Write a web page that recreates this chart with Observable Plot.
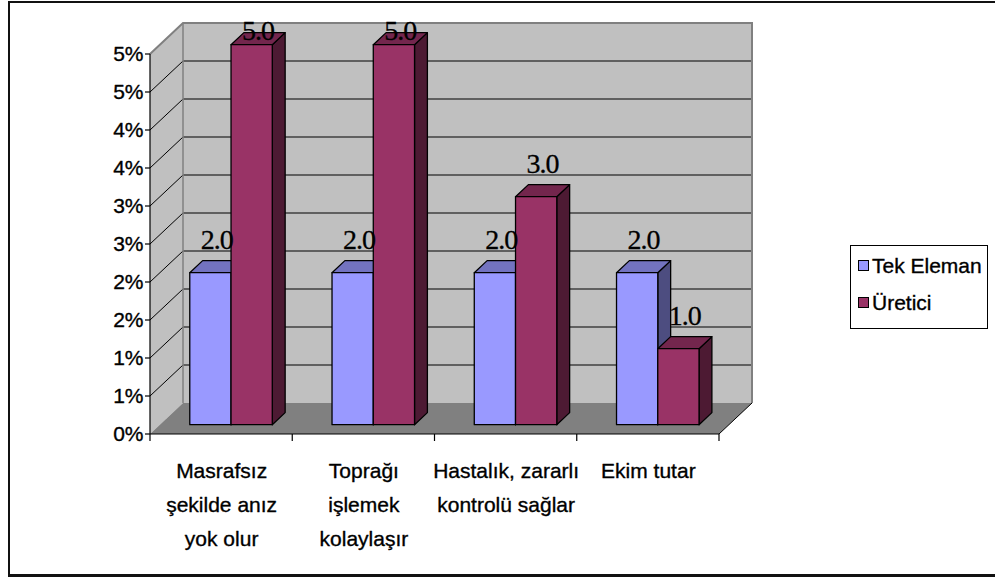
<!DOCTYPE html>
<html>
<head>
<meta charset="utf-8">
<script src="https://cdn.jsdelivr.net/npm/d3@7"></script>
<script src="https://cdn.jsdelivr.net/npm/@observablehq/plot@0.6"></script>
<style>
  html, body { margin: 0; padding: 0; background: #fff; }
  #wrap { position: relative; width: 995px; height: 578px; overflow: hidden; font-family: "Liberation Sans", Arial, sans-serif; }
  #border { position: absolute; left: 8px; top: 1px; width: 1200px; height: 576px; box-sizing: border-box; border: 2px solid #111; border-bottom-width: 3px; }
  #chart { position: absolute; left: 0; top: 0; }
  #legend { position: absolute; left: 850px; top: 245px; }
</style>
</head>
<body>
<div id="wrap">
  <div id="border"></div>
  <div id="chart"></div>
  <div id="legend"></div>
</div>
<script>
// ---- data ----
const categories = [
  "Masrafsız\nşekilde anız\nyok olur",
  "Toprağı\nişlemek\nkolaylaşır",
  "Hastalık, zararlı\nkontrolü sağlar",
  "Ekim tutar"
];
const seriesNames = ["Tek Eleman", "Üretici"];
const tekEleman = [2.0, 2.0, 2.0, 2.0];
const uretici = [5.0, 5.0, 3.0, 1.0];
const yTicks = [0, 0.5, 1, 1.5, 2, 2.5, 3, 3.5, 4, 4.5, 5];
const yTickLabels = ["0%", "1%", "1%", "2%", "2%", "3%", "3%", "4%", "4%", "5%", "5%"];

// ---- styles ----
const faceColors = {
  "Tek Eleman": {front: "#9999ff", top: "#7373c0", side: "#4d4d80"},
  "Üretici":    {front: "#993366", top: "#73264d", side: "#4d1a33"}
};
const DEPTH = {dx: 33, dy: 31, barFront: 0.3, barBack: 0.69};
const GROUP = {start: 0.21, width: 0.58};

const rows = categories.flatMap((c, i) => [
  {cat: c, series: seriesNames[0], value: tekEleman[i]},
  {cat: c, series: seriesNames[1], value: uretici[i]}
]);

function chart3d(index, scales, values, dim) {
  const sx = scales.x, sy = scales.y;
  const n = categories.length;
  const x0 = dim.marginLeft, x1 = dim.width - dim.marginRight;
  const bw = typeof sx.bandwidth === "function" ? sx.bandwidth() : (x1 - x0) / n;
  const vMin = d3.min(yTicks), vMax = d3.max(yTicks);
  const yb = sy(vMin), yt = sy(vMax);
  const DX = DEPTH.dx, DY = DEPTH.dy;
  const g = d3.create("svg:g");
  const poly = (pts) => pts.map(p => p.join(",")).join(" ");

  // back wall
  g.append("polygon").attr("points", poly([[x0+DX, yt-DY],[x1+DX, yt-DY],[x1+DX, yb-DY],[x0+DX, yb-DY]]))
    .attr("fill", "#c0c0c0");
  // left wall
  g.append("polygon").attr("points", poly([[x0, yb],[x0+DX, yb-DY],[x0+DX, yt-DY],[x0, yt]]))
    .attr("fill", "#c0c0c0");
  // floor
  g.append("polygon").attr("points", poly([[x0, yb],[x0+DX, yb-DY],[x1+DX, yb-DY],[x1, yb]]))
    .attr("fill", "#808080");
  // gridlines
  yTicks.filter(v => v > vMin && v < vMax).forEach(v => {
    const y = sy(v);
    g.append("line").attr("x1", x0+DX).attr("x2", x1+DX).attr("y1", y-DY).attr("y2", y-DY)
      .attr("stroke", "#000").attr("stroke-width", 1);
    g.append("line").attr("x1", x0).attr("x2", x0+DX).attr("y1", y).attr("y2", y-DY)
      .attr("stroke", "#000").attr("stroke-width", 1);
  });
  // wall edges
  g.append("polyline").attr("points", poly([[x0, yt],[x0+DX, yt-DY],[x1+DX, yt-DY],[x1+DX, yb-DY]]))
    .attr("fill", "none").attr("stroke", "#808080").attr("stroke-width", 2);
  g.append("line").attr("x1", x0+DX).attr("x2", x0+DX).attr("y1", yt-DY).attr("y2", yb-DY)
    .attr("stroke", "#808080").attr("stroke-width", 1.5);
  g.append("line").attr("x1", x1).attr("x2", x1+DX).attr("y1", yb).attr("y2", yb-DY)
    .attr("stroke", "#000").attr("stroke-width", 1);

  // bars
  const of = [DX*DEPTH.barFront, -DY*DEPTH.barFront];
  const ob = [DX*DEPTH.barBack, -DY*DEPTH.barBack];
  const labels = [];
  rows.forEach(r => {
    const s = seriesNames.indexOf(r.series);
    const bx = sx(r.cat);
    const fx0 = bx + bw * (GROUP.start + s * GROUP.width / 2);
    const fx1 = fx0 + bw * GROUP.width / 2;
    const y0 = sy(0), y1 = sy(r.value);
    const c = faceColors[r.series];
    const st = (sel) => sel.attr("stroke", "#000").attr("stroke-width", 1.3).attr("stroke-linejoin", "round");
    st(g.append("polygon").attr("points", poly([[fx1+of[0], y1+of[1]],[fx1+ob[0], y1+ob[1]],[fx1+ob[0], y0+ob[1]],[fx1+of[0], y0+of[1]]]))
      .attr("fill", c.side));
    st(g.append("polygon").attr("points", poly([[fx0+of[0], y1+of[1]],[fx0+ob[0], y1+ob[1]],[fx1+ob[0], y1+ob[1]],[fx1+of[0], y1+of[1]]]))
      .attr("fill", c.top));
    st(g.append("polygon").attr("points", poly([[fx0+of[0], y1+of[1]],[fx1+of[0], y1+of[1]],[fx1+of[0], y0+of[1]],[fx0+of[0], y0+of[1]]]))
      .attr("fill", c.front));
    labels.push({
      x: (fx0 + fx1) / 2 + DX * (DEPTH.barFront + DEPTH.barBack) / 2,
      y: Math.max(y1 - DY * DEPTH.barBack - 12, dim.marginTop - 14),
      t: r.value.toFixed(1)
    });
  });

  // axes lines and ticks
  g.append("line").attr("x1", x0).attr("x2", x0).attr("y1", yt).attr("y2", yb + 7)
    .attr("stroke", "#000").attr("stroke-width", 1.2);
  yTicks.forEach(v => {
    g.append("line").attr("x1", x0 - 5).attr("x2", x0).attr("y1", sy(v)).attr("y2", sy(v))
      .attr("stroke", "#000").attr("stroke-width", 1.2);
  });
  g.append("line").attr("x1", x0).attr("x2", x1).attr("y1", yb).attr("y2", yb)
    .attr("stroke", "#000").attr("stroke-width", 1.2);
  categories.forEach((c, i) => {
    const bx = sx(c) + bw;
    g.append("line").attr("x1", bx).attr("x2", bx).attr("y1", yb).attr("y2", yb + 7)
      .attr("stroke", "#000").attr("stroke-width", 1.2);
  });

  // data labels
  labels.forEach(l => {
    g.append("text").attr("x", l.x).attr("y", l.y).attr("text-anchor", "middle")
      .attr("font-family", "'Liberation Serif', 'Times New Roman', serif")
      .attr("font-size", 28).attr("letter-spacing", -1).attr("fill", "#000")
      .attr("stroke", "#000").attr("stroke-width", 0.3).text(l.t);
  });
  return g.node();
}

const plot = Plot.plot({
  width: 995,
  height: 578,
  marginLeft: 150,
  marginRight: 276,
  marginTop: 54,
  marginBottom: 144,
  x: {type: "band", domain: categories, padding: 0, round: false, axis: null},
  y: {domain: [d3.min(yTicks), d3.max(yTicks)], axis: null},
  style: {fontFamily: "'Liberation Sans', Arial, sans-serif", fontSize: "21px", background: "transparent", overflow: "visible"},
  marks: [
    chart3d,
    Plot.text(yTicks, {y: d => d, text: (d, i) => yTickLabels[i], frameAnchor: "left", textAnchor: "end", dx: -7, fontSize: 21, fill: "#000", stroke: "#000", strokeWidth: 0.35}),
    Plot.text(categories, {x: d => d, text: d => d, frameAnchor: "bottom", lineAnchor: "top", dy: 19, lineHeight: 1.62, fontSize: 21, fill: "#000", stroke: "#000", strokeWidth: 0.35})
  ]
});
document.getElementById("chart").appendChild(plot);

// legend
const lg = d3.select("#legend").append("svg").attr("width", 140).attr("height", 86)
  .style("font-family", "'Liberation Sans', Arial, sans-serif");
lg.append("rect").attr("x", 0.5).attr("y", 0.5).attr("width", 137).attr("height", 83)
  .attr("fill", "#fff").attr("stroke", "#000");
seriesNames.forEach((s, i) => {
  const yy = 28 + i * 37;
  lg.append("rect").attr("x", 8.5).attr("y", yy - 12.5).attr("width", 10).attr("height", 10)
    .attr("fill", faceColors[s].front).attr("stroke", "#000");
  lg.append("text").attr("x", 22).attr("y", yy).attr("font-size", 21).attr("fill", "#000")
    .attr("stroke", "#000").attr("stroke-width", 0.35).text(s);
});
</script>
</body>
</html>
